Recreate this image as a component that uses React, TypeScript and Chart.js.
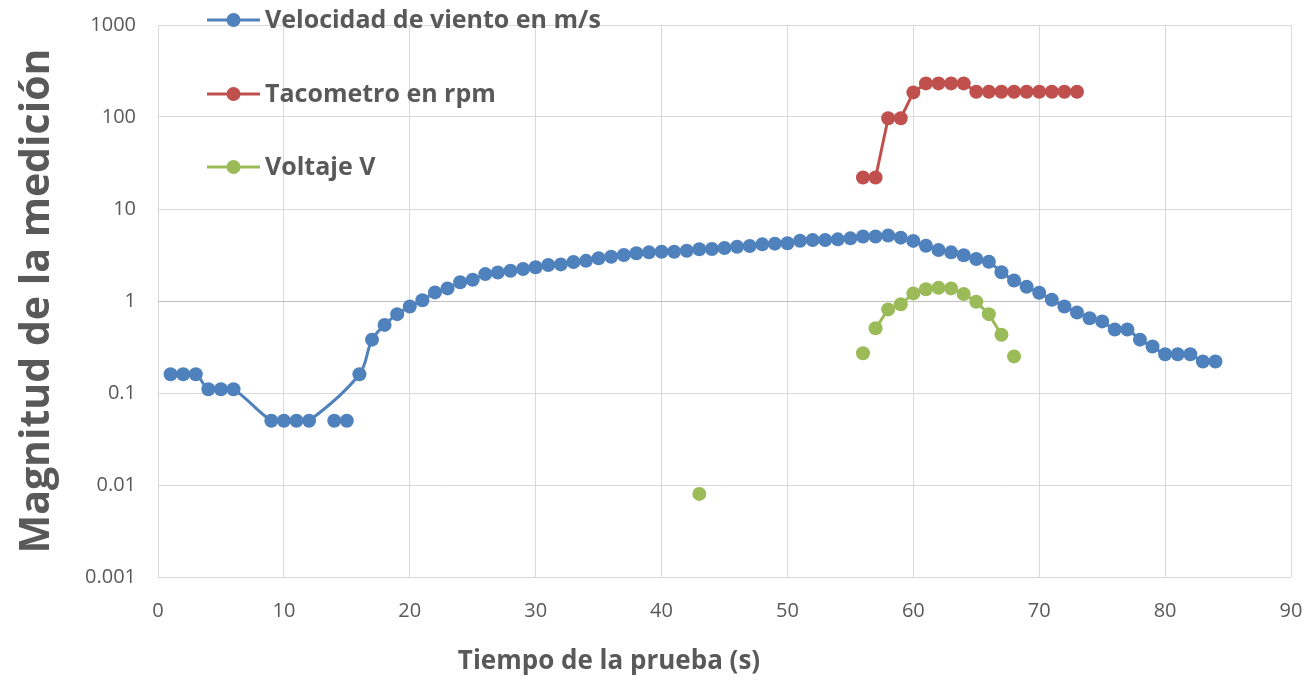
import React, { useEffect, useRef } from 'react';
import { Chart, registerables } from 'chart.js';

Chart.register(...registerables);

// ---------- Data ----------
const windTime = [1, 2, 3, 4, 5, 6, 9, 10, 11, 12, 16, 17, 18, 19, 20, 21, 22, 23, 24, 25, 26, 27, 28, 29, 30, 31, 32, 33, 34, 35, 36, 37, 38, 39, 40, 41, 42, 43, 44, 45, 46, 47, 48, 49, 50, 51, 52, 53, 54, 55, 56, 57, 58, 59, 60, 61, 62, 63, 64, 65, 66, 67, 68, 69, 70, 71, 72, 73, 74, 75, 76, 77, 78, 79, 80, 81, 82, 83, 84];
const windValues = [0.16, 0.16, 0.16, 0.11, 0.11, 0.11, 0.05, 0.05, 0.05, 0.05, 0.16, 0.38, 0.55, 0.72, 0.87, 1.02, 1.24, 1.37, 1.6, 1.7, 1.96, 2.04, 2.13, 2.23, 2.33, 2.46, 2.5, 2.65, 2.73, 2.92, 3.03, 3.16, 3.3, 3.38, 3.43, 3.43, 3.52, 3.65, 3.68, 3.77, 3.89, 3.96, 4.13, 4.2, 4.24, 4.52, 4.6, 4.6, 4.68, 4.8, 5.02, 5.02, 5.15, 4.88, 4.5, 3.99, 3.58, 3.38, 3.14, 2.86, 2.67, 2.05, 1.67, 1.43, 1.23, 1.03, 0.87, 0.75, 0.65, 0.6, 0.49, 0.49, 0.38, 0.32, 0.264, 0.264, 0.264, 0.22, 0.22];
const windLooseTime = [14, 15];
const windLooseValues = [0.05, 0.05];

const rpmTime = [56, 57, 58, 59, 60, 61, 62, 63, 64, 65, 66, 67, 68, 69, 70, 71, 72, 73];
const rpmValues = [22, 22, 97, 97, 185, 232, 232, 232, 232, 188, 188, 188, 188, 188, 188, 188, 188, 188];

const voltTime = [43, 56, 57, 58, 59, 60, 61, 62, 63, 64, 65, 66, 67, 68];
const voltValues = [0.008, 0.27, 0.505, 0.81, 0.92, 1.21, 1.34, 1.39, 1.37, 1.19, 0.98, 0.72, 0.43, 0.25];
const voltUnlinkedAfter = [43, 56, 67];

const seriesNames = ['Velocidad de viento en m/s', 'Tacometro en rpm', 'Voltaje V'];
const xTicks = [0, 10, 20, 30, 40, 50, 60, 70, 80, 90];
const yTicks = [0.001, 0.01, 0.1, 1, 10, 100, 1000];
const yTickLabels = ['0.001', '0.01', '0.1', '1', '10', '100', '1000'];
const xTitle = 'Tiempo de la prueba (s)';
const yTitle = 'Magnitud de la medición';

// ---------- Styles ----------
const BLUE = '#4f81bd';
const RED = '#c0504d';
const GREEN = '#9bbb59';
const TEXT = '#595959';
const GRID = '#d9d9d9';
const FONT = '"Open Sans", "Liberation Sans", sans-serif';
const seriesColors = [BLUE, RED, GREEN];

const pts = (xs: number[], ys: number[]) => xs.map((x, i) => ({ x, y: ys[i] }));

const overlayPlugin = {
  id: 'overlay',
  afterDraw(chart: any) {
    const ctx = chart.ctx as CanvasRenderingContext2D;
    ctx.save();
    // legend
    const rows = [20, 94, 167];
    seriesNames.forEach((name, i) => {
      const y = rows[i];
      ctx.strokeStyle = seriesColors[i];
      ctx.lineWidth = 3;
      ctx.beginPath();
      ctx.moveTo(207, y);
      ctx.lineTo(260, y);
      ctx.stroke();
      ctx.fillStyle = seriesColors[i];
      ctx.beginPath();
      ctx.arc(233.5, y, 7, 0, Math.PI * 2);
      ctx.fill();
      ctx.fillStyle = TEXT;
      ctx.font = `bold 25px ${FONT}`;
      ctx.textAlign = 'left';
      ctx.textBaseline = 'middle';
      ctx.fillText(name, 265, y + 1);
    });
    // x title
    ctx.fillStyle = TEXT;
    ctx.font = `bold 26px ${FONT}`;
    ctx.textAlign = 'center';
    ctx.textBaseline = 'middle';
    ctx.fillText(xTitle, 609, 662);
    // y title
    ctx.translate(37, 301);
    ctx.rotate(-Math.PI / 2);
    ctx.font = `bold 41px ${FONT}`;
    ctx.fillText(yTitle, 0, 0);
    ctx.restore();
  },
};

export default function App() {
  const canvasRef = useRef<HTMLCanvasElement | null>(null);

  useEffect(() => {
    if (!canvasRef.current) return;
    const chart = new Chart(canvasRef.current, {
      type: 'line',
      data: {
        datasets: [
          {
            label: seriesNames[0],
            data: pts(windTime, windValues),
            borderColor: BLUE,
            backgroundColor: BLUE,
            borderWidth: 3,
            pointRadius: 7,
            pointHoverRadius: 7,
            pointBorderWidth: 0,
            tension: 0.35,
            fill: false,
          },
          {
            label: 'extra',
            data: pts(windLooseTime, windLooseValues),
            borderColor: BLUE,
            backgroundColor: BLUE,
            showLine: false,
            pointRadius: 7,
            pointBorderWidth: 0,
          },
          {
            label: seriesNames[1],
            data: pts(rpmTime, rpmValues),
            borderColor: RED,
            backgroundColor: RED,
            borderWidth: 3,
            pointRadius: 7,
            pointBorderWidth: 0,
            tension: 0,
          },
          {
            label: seriesNames[2],
            data: pts(voltTime, voltValues),
            borderColor: GREEN,
            backgroundColor: GREEN,
            borderWidth: 3,
            pointRadius: 7,
            pointBorderWidth: 0,
            tension: 0,
            segment: {
              borderColor: (c: any) =>
                voltUnlinkedAfter.includes(voltTime[c.p0DataIndex]) ? 'rgba(0,0,0,0)' : GREEN,
            },
          },
        ] as any,
      },
      options: {
        responsive: false,
        animation: false,
        events: [],
        layout: { padding: { top: 25, right: 16, left: 0, bottom: 0 } },
        plugins: { legend: { display: false }, tooltip: { enabled: false } },
        scales: {
          x: {
            type: 'linear',
            min: 0,
            max: 90,
            afterBuildTicks: (s: any) => {
              s.ticks = xTicks.map((v) => ({ value: v }));
            },
            ticks: {
              color: TEXT,
              font: { family: FONT, size: 20 },
              padding: 22,
              maxRotation: 0,
            },
            grid: { color: GRID, lineWidth: 1, drawTicks: false },
            border: { display: false },
            afterFit: (s: any) => {
              s.height = 104;
              s.paddingLeft = 0;
              s.paddingRight = 0;
            },
          },
          y: {
            type: 'logarithmic',
            min: 0.001,
            max: 1000,
            afterBuildTicks: (s: any) => {
              s.ticks = yTicks.map((v) => ({ value: v }));
            },
            ticks: {
              color: TEXT,
              font: { family: FONT, size: 20 },
              padding: 22,
              callback: (v: any) => {
                const i = yTicks.findIndex((t) => Math.abs(t - Number(v)) < t * 1e-6);
                return i >= 0 ? yTickLabels[i] : '';
              },
            },
            grid: {
              color: (c: any) => (c.tick && c.tick.value === 1 ? '#bfbfbf' : GRID),
              lineWidth: 1,
              drawTicks: false,
            },
            border: { display: false },
            afterFit: (s: any) => {
              s.width = 158;
              s.paddingTop = 0;
              s.paddingBottom = 0;
            },
          },
        },
      } as any,
      plugins: [overlayPlugin],
    });
    return () => chart.destroy();
  }, []);

  return (
    <div style={{ position: 'absolute', left: 0, top: 0, width: 1307, height: 681, background: '#fff' }}>
      <canvas ref={canvasRef} width={1307} height={681} style={{ display: 'block' }} />
    </div>
  );
}
